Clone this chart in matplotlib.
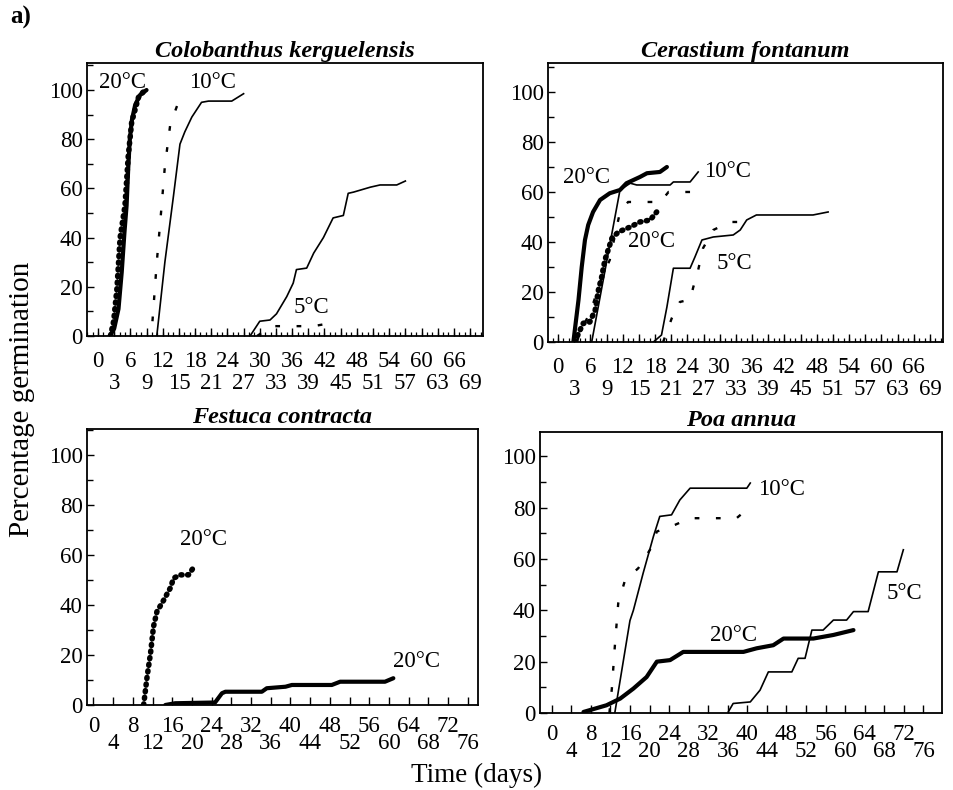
import matplotlib
matplotlib.use("Agg")
import matplotlib.pyplot as plt
from matplotlib.ticker import MultipleLocator, FixedLocator

plt.rcParams['font.family'] = ['Liberation Serif', 'DejaVu Serif']

# ---- data (day, % germination) ----

# Colobanthus kerguelensis
cb20_solid_x = [2.2, 3.0, 3.8, 4.4, 4.9, 5.3, 5.6, 5.9, 6.3, 6.9, 7.8, 9.0]
cb20_solid_y = [0, 3, 11, 26, 42, 53, 68, 80, 88, 94, 98, 100]
cb20_dot_x = [2.3, 2.9, 3.5, 4.1, 5.0, 5.6, 6.25, 7.5, 8.7]
cb20_dot_y = [0, 6, 19, 40, 53, 73, 87, 97, 100]
cb10_solid_x = [10.9, 12.4, 14.0, 15.2, 16.1, 17.4, 19.2, 20.5, 24.8, 27.0]
cb10_solid_y = [0, 30, 57, 78, 83, 89, 95, 95.5, 95.5, 98.5]
cb10_dash_x = [10.1, 10.9, 11.8, 12.4, 13.4, 14.9]
cb10_dash_y = [6, 30, 53, 69, 86, 95]
cb5_solid_x = [28.2, 30.0, 31.9, 33.1, 35.0, 36.2, 36.8, 38.7, 40.0, 41.8, 43.6,
               45.5, 46.4, 47.4, 50.5, 52.3, 55.4, 57.0]
cb5_solid_y = [0, 6, 6.5, 9, 16, 21.5, 27, 27.6, 33.7, 40, 48, 49, 58, 58.5,
               60.5, 61.4, 61.4, 63]
cb5_dash_x = [29.5, 32.2, 36.2, 40.0, 42.5, 43.8]
cb5_dash_y = [0, 4, 4, 4, 5, 7.5]

# Cerastium fontanum
ce20_solid_x = [2.85, 3.8, 4.4, 5.0, 5.6, 6.5, 7.8, 9.6, 11.5, 12.7, 15.2, 16.5, 18.9, 20.2]
ce20_solid_y = [0, 16.8, 30, 40.8, 46.8, 52, 56.8, 59.5, 60.8, 63.5, 66, 67.5, 68, 70]
ce20_dot_x = [3.2, 3.8, 4.7, 5.9, 6.9, 7.5, 8.1, 8.7, 9.3, 10.0, 11.2, 13.4, 15.2, 17.1, 18.3]
ce20_dot_y = [0, 3.5, 7.5, 8, 12.8, 20.8, 26, 32.8, 36.8, 41.5, 44, 46, 48, 48.8, 52]
ce10_solid_x = [6.25, 11.5, 13.4, 14.6, 20.8, 21.4, 24.5, 26.0]
ce10_solid_y = [0, 60.8, 63.5, 62.8, 62.8, 64, 64, 68]
ce10_dash_x = [3.5, 4.1, 6.0, 8.0, 9.6, 10.3, 11.5, 13.0, 19.0, 20.5, 25.0]
ce10_dash_y = [0, 4, 12, 25, 32.8, 40, 52, 56, 56, 60, 60]
ce5_solid_x = [17.7, 19.2, 20.2, 21.4, 24.5, 25.4, 26.7, 28.8, 32.5, 33.8, 35.0, 36.8, 47.3, 50.1]
ce5_solid_y = [0, 2.8, 14, 29.5, 29.5, 34, 40.8, 42, 42.8, 44.8, 48.8, 50.8, 50.8, 52]
ce5_dash_x = [19.5, 21.1, 22.6, 24.5, 25.1, 26.0, 26.9, 28.8, 31.9, 34.0, 34.7]
ce5_dash_y = [0, 9.5, 16, 17, 22, 28.8, 37.5, 44.8, 48, 48, 52]

# Festuca contracta
fc20_dot_x = [10.2, 10.9, 11.6, 12.2, 12.9, 14.3, 15.6, 16.3, 17.6, 19.3, 20.7]
fc20_dot_y = [0, 11.3, 20.7, 31.3, 37.3, 42, 46.7, 50.7, 52, 52, 56]
fc20_solid_x = [14.6, 16.6, 24.7, 26.1, 26.8, 34.2, 35.2, 39.0, 40.3, 48.4, 50.1, 59.2, 60.9]
fc20_solid_y = [0, 0.7, 1, 4.7, 5.3, 5.3, 6.7, 7.3, 8, 8, 9.3, 9.3, 10.7]

# Poa annua
pa10_solid_x = [12.9, 16.0, 16.7, 18.7, 20.8, 22.1, 24.5, 26.2, 28.3, 39.9, 40.6]
pa10_solid_y = [0, 36, 40, 54.5, 68.8, 76.6, 77.2, 83, 87.6, 87.6, 89.6]
pa10_dash_x = [11.8, 12.3, 12.9, 13.6, 15.0, 17.7, 20.1, 21.5, 25.2, 28.3, 37.8, 40.2]
pa10_dash_y = [0, 9.5, 25.8, 42.7, 51.8, 56.4, 63.6, 70.7, 73.3, 75.9, 75.9, 79.8]
pa20_solid_x = [6.5, 11.2, 14.0, 16.7, 19.4, 21.5, 24.2, 26.9, 39.2, 41.9, 45.3, 47.4, 53.5, 57.6, 61.7]
pa20_solid_y = [0.4, 3, 5.6, 9.5, 14, 20, 20.6, 23.8, 23.8, 25.2, 26.4, 29, 29, 30.4, 32.3]
pa5_solid_x = [36.1, 37.1, 40.6, 42.6, 44.3, 49.1, 50.4, 51.8, 53.2, 55.5, 57.6, 60.3,
               61.7, 64.7, 66.8, 70.6, 71.9]
pa5_solid_y = [0.4, 3.7, 4.3, 8.9, 16, 16, 21.3, 21.3, 32.3, 32.3, 36.2, 36.2,
               39.5, 39.5, 55, 55, 63.6]

# tick labels
top_upper = list(range(0, 67, 6))
top_lower = list(range(3, 70, 6))
bot_upper = list(range(0, 73, 8))
bot_lower = list(range(4, 77, 8))

# line styles
THICK = dict(color='black', lw=3.0, solid_capstyle='round')
THIN = dict(color='black', lw=1.2)
DOTS = dict(color='black', lw=4.0, linestyle=(0, (0.2, 1.0)), dash_capstyle='round')
DASH = dict(color='black', lw=1.7, linestyle=(0, (2.0, 7.0)))

FS = 16.5   # tick / annotation font size


def setup_axes(ax, title, xlim, ylim, upper, lower, pads, fine=None):
    ax.set_xlim(*xlim)
    ax.set_ylim(*ylim)
    ax.set_title(title, fontsize=17.5, fontweight='bold', style='italic', pad=4)
    ax.xaxis.set_major_locator(FixedLocator(upper))
    ax.xaxis.set_minor_locator(FixedLocator(lower))
    ax.set_xticklabels([str(v) for v in upper])
    ax.set_xticklabels([str(v) for v in lower], minor=True)
    ax.tick_params(axis='x', which='major', direction='in', length=6, width=1, pad=pads[0], labelsize=FS)
    ax.tick_params(axis='x', which='minor', direction='in', length=6, width=1, pad=pads[1], labelsize=FS)
    ax.yaxis.set_major_locator(MultipleLocator(20))
    ax.yaxis.set_minor_locator(MultipleLocator(10))
    ax.tick_params(axis='y', which='major', direction='in', length=5, width=1, pad=3, labelsize=FS)
    ax.tick_params(axis='y', which='minor', direction='in', length=4, width=1)
    for s in ax.spines.values():
        s.set_linewidth(1.3)
    if fine is not None:
        # small daily ticks along the time axis
        sec = ax.secondary_xaxis('bottom')
        sec.xaxis.set_major_locator(MultipleLocator(fine))
        sec.tick_params(direction='in', length=3, width=0.9, labelbottom=False)
        sec.spines['bottom'].set_visible(False)


def label(ax, x, y, s):
    ax.text(x, y, s, fontsize=FS, ha='center', va='center')


fig = plt.figure(figsize=(9.54, 7.9), dpi=100)

ax1 = fig.add_axes([0.0912, 0.5747, 0.4151, 0.3456])
ax2 = fig.add_axes([0.5744, 0.5671, 0.4140, 0.3532])
ax3 = fig.add_axes([0.0912, 0.1076, 0.4099, 0.3494])
ax4 = fig.add_axes([0.5660, 0.0975, 0.4214, 0.3557])

# Colobanthus
ax1.plot(cb20_dot_x, cb20_dot_y, **DOTS)
ax1.plot(cb20_solid_x, cb20_solid_y, **THICK)
ax1.plot(cb10_dash_x, cb10_dash_y, **DASH)
ax1.plot(cb10_solid_x, cb10_solid_y, **THIN)
ax1.plot(cb5_solid_x, cb5_solid_y, **THIN)
ax1.plot(cb5_dash_x, cb5_dash_y, **DASH)
label(ax1, 4.6, 103, '20°C')
label(ax1, 21.3, 103, '10°C')
label(ax1, 39.6, 11.4, '5°C')
setup_axes(ax1, 'Colobanthus kerguelensis', (-2.04, 71.4), (0, 111),
           top_upper, top_lower, (11, 27), fine=1)

# Cerastium
ax2.plot(ce20_solid_x, ce20_solid_y, **THICK)
ax2.plot(ce20_dot_x, ce20_dot_y, **DOTS)
ax2.plot(ce10_solid_x, ce10_solid_y, **THIN)
ax2.plot(ce10_dash_x, ce10_dash_y, **DASH)
ax2.plot(ce5_solid_x, ce5_solid_y, **THIN)
ax2.plot(ce5_dash_x, ce5_dash_y, **DASH)
label(ax2, 5.3, 65.6, '20°C')
label(ax2, 31.5, 68, '10°C')
label(ax2, 17.4, 40, '20°C')
label(ax2, 32.8, 31.5, '5°C')
setup_axes(ax2, 'Cerastium fontanum', (-1.86, 71.4), (0, 111.6),
           top_upper, top_lower, (11, 27), fine=1)

# Festuca
ax3.plot(fc20_dot_x, fc20_dot_y, **DOTS)
ax3.plot(fc20_solid_x, fc20_solid_y, **THICK)
label(ax3, 22.4, 66, '20°C')
label(ax3, 65.7, 17.3, '20°C')
setup_axes(ax3, 'Festuca contracta', (-1.3, 78.1), (0, 110.3),
           bot_upper, bot_lower, (8, 20))

# Poa
ax4.plot(pa10_solid_x, pa10_solid_y, **THIN)
ax4.plot(pa10_dash_x, pa10_dash_y, **DASH)
ax4.plot(pa20_solid_x, pa20_solid_y, **THICK)
ax4.plot(pa5_solid_x, pa5_solid_y, **THIN)
label(ax4, 47, 87, '10°C')
label(ax4, 37.1, 30.3, '20°C')
label(ax4, 72.2, 46.6, '5°C')
setup_axes(ax4, 'Poa annua', (-2.4, 79.8), (0, 109.5),
           bot_upper, bot_lower, (8, 20))

fig.text(0.011, 0.978, 'a)', fontsize=18, fontweight='bold', va='center')
fig.text(0.023, 0.494, 'Percentage germination', fontsize=21, rotation=90,
         ha='center', va='center')
fig.text(0.5, 0.019, 'Time (days)', fontsize=19.5, ha='center', va='center')

fig.savefig('out.png', dpi=100)
